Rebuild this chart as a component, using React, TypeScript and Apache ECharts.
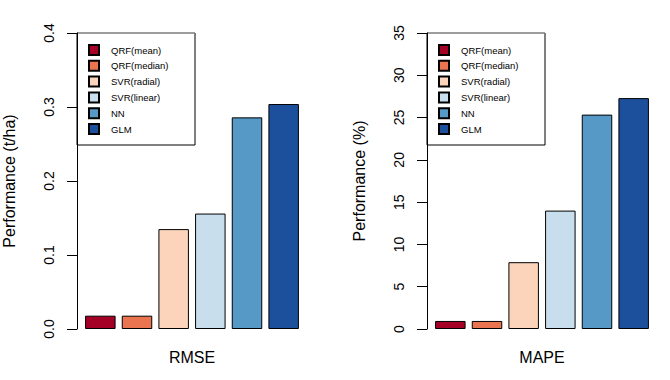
import React, { useEffect, useRef } from "react";
import * as echarts from "echarts";

const models = ["QRF(mean)", "QRF(median)", "SVR(radial)", "SVR(linear)", "NN", "GLM"];
const colors = ["#A50026", "#EA7450", "#FCD3BB", "#C8DEEC", "#5699C6", "#1D509C"];
const rmseValues = [0.018, 0.018, 0.135, 0.156, 0.286, 0.304];
const mapeValues = [0.95, 0.95, 7.9, 14.0, 25.35, 27.3];
const rmseTicks = { min: 0, max: 0.4, interval: 0.1 };
const mapeTicks = { min: 0, max: 35, interval: 5 };

const FONT = "Liberation Sans, Arial, sans-serif";

export default function App() {
  const ref = useRef<HTMLDivElement>(null);
  useEffect(() => {
    if (!ref.current) return;
    const chart = echarts.init(ref.current, null, { renderer: "svg" });

    const mkSeries = (vals: number[], idx: number) =>
      models.map((m, i) => ({
        name: m,
        type: "bar",
        stack: "s" + idx,
        xAxisIndex: idx,
        yAxisIndex: idx,
        barWidth: 30.5,
        itemStyle: { color: colors[i], borderColor: "#000", borderWidth: 1 },
        data: models.map((_, j) => (j === i ? vals[j] : "-")),
      }));

    const yAxisBase = (idx: number, t: any, name: string, fmt: (v: number) => string) => ({
      type: "value",
      gridIndex: idx,
      min: t.min,
      max: t.max,
      interval: t.interval,
      offset: 5,
      name,
      nameLocation: "middle",
      nameRotate: 90,
      nameGap: 60,
      nameTextStyle: { fontFamily: FONT, fontSize: 16, color: "#000" },
      axisLine: { show: true, lineStyle: { color: "#000", width: 1 } },
      axisTick: { show: true, length: 10, lineStyle: { color: "#000" } },
      axisLabel: {
        rotate: 90,
        margin: 21,
        fontFamily: FONT,
        fontSize: 14,
        color: "#000",
        formatter: fmt,
      },
      splitLine: { show: false },
    });

    const xAxisBase = (idx: number, name: string) => ({
      type: "category",
      gridIndex: idx,
      data: models,
      name,
      nameLocation: "middle",
      nameGap: 20,
      nameTextStyle: { fontFamily: FONT, fontSize: 16, color: "#000" },
      axisLine: { show: false },
      axisTick: { show: false },
      axisLabel: { show: false },
      splitLine: { show: false },
    });

    const legendBase = (left: number) => ({
      orient: "vertical",
      left,
      top: 44,
      padding: 0,
      itemWidth: 10,
      itemHeight: 10,
      itemGap: 3.8,
      icon: "rect",
      selectedMode: false,
      data: models,
      textStyle: {
        fontFamily: FONT,
        fontSize: 9.5,
        color: "#000",
        lineHeight: 10,
        padding: [0, 0, 0, 7],
      },
    });

    chart.setOption({
      animation: false,
      backgroundColor: "#fff",
      grid: [
        { left: 82, top: 33, width: 220, height: 296 },
        { left: 432, top: 33, width: 220, height: 296 },
      ],
      xAxis: [xAxisBase(0, "RMSE"), xAxisBase(1, "MAPE")],
      yAxis: [
        yAxisBase(0, rmseTicks, "Performance (t/ha)", (v: number) => v.toFixed(1)),
        yAxisBase(1, mapeTicks, "Performance (%)", (v: number) => String(v)),
      ],
      legend: [legendBase(88), legendBase(438)],
      graphic: [
        {
          type: "rect",
          z: -1,
          shape: { x: 77, y: 33, width: 118, height: 112 },
          style: { fill: "#fff", stroke: "#000", lineWidth: 1 },
        },
        {
          type: "rect",
          z: -1,
          shape: { x: 427, y: 33, width: 118, height: 112 },
          style: { fill: "#fff", stroke: "#000", lineWidth: 1 },
        },
        {
          type: "line",
          z: 10,
          shape: { x1: 78, y1: 33, x2: 195, y2: 33 },
          style: { stroke: "#bbb", lineWidth: 1 },
        },
        {
          type: "line",
          z: 10,
          shape: { x1: 428, y1: 33, x2: 545, y2: 33 },
          style: { stroke: "#bbb", lineWidth: 1 },
        },
      ],
      series: [...mkSeries(rmseValues, 0), ...mkSeries(mapeValues, 1)],
    });
    return () => chart.dispose();
  }, []);
  return (
    <div
      ref={ref}
      style={{ position: "fixed", left: 0, top: 0, width: 670, height: 380 }}
    />
  );
}
